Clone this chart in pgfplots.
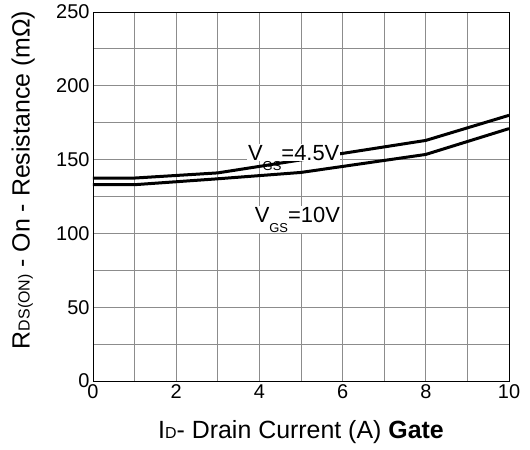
\documentclass[border=0pt]{standalone}
\usepackage{fontspec}
\setmainfont{Liberation Sans}
\usepackage{pgfplots}
\pgfplotsset{compat=1.18}
\begin{document}
\begin{tikzpicture}
\useasboundingbox (-93bp,-69bp) rectangle (437bp,381bp);
\begin{axis}[
  at={(0,0)}, anchor=south west,
  scale only axis, width=416bp, height=369bp,
  xmin=0, xmax=10, ymin=0, ymax=250,
  xtick={0,2,...,10}, ytick={0,50,...,250},
  minor x tick num=1, minor y tick num=1,
  grid=both,
  major grid style={black!45, line width=0.8bp},
  minor grid style={black!45, line width=0.8bp},
  major tick length=0pt, minor tick length=0pt,
  axis line style={black, line width=0.9bp},
  tick label style={font=\fontsize{20}{20}\selectfont},
  /pgf/number format/assume math mode=true,
  xlabel={I{\fontsize{16}{16}\selectfont D}- Drain Current (A) \textbf{Gate}},
  ylabel={R{\fontsize{16}{16}\selectfont DS(ON)} - On - Resistance (mΩ)},
  xlabel style={at={(axis description cs:0.5,-0.138)}, anchor=center, font=\fontsize{25}{25}\selectfont},
  ylabel style={at={(axis description cs:-0.168,0.545)}, anchor=center, font=\fontsize{25}{25}\selectfont},
]
% VGS = 4.5 V
\addplot[black, line width=3bp, line join=round] coordinates {
  (0,137.5) (1,137.5) (3,141) (8,163) (10,180)
};
% VGS = 10 V
\addplot[black, line width=3bp, line join=round] coordinates {
  (0,133) (1,133) (3,137) (5,141.3) (8,153.5) (10,171)
};
\node[fill=white, inner sep=1bp, anchor=base west, font=\fontsize{22}{22}\selectfont]
  at (axis cs:3.70,149.7) {V\raisebox{-10bp}[0pt][0pt]{\fontsize{13}{13}\selectfont GS}=4.5V};
\node[fill=white, inner sep=1bp, anchor=base west, font=\fontsize{22}{22}\selectfont]
  at (axis cs:3.86,107.7) {V\raisebox{-10bp}{\fontsize{13}{13}\selectfont GS}=10V};
\end{axis}
\end{tikzpicture}
\end{document}
